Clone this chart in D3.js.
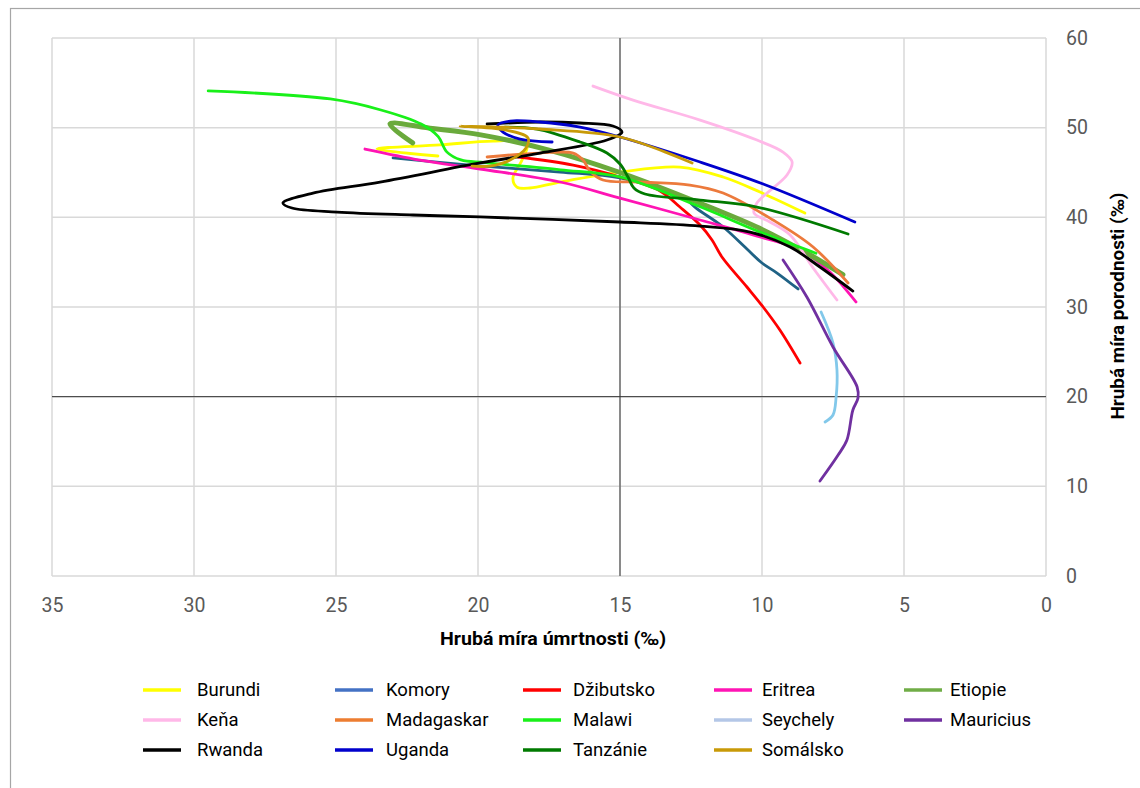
<!DOCTYPE html>
<html>
<head>
<meta charset="utf-8">
<script src="https://cdn.jsdelivr.net/npm/d3@7"></script>
<style>
  html, body { margin: 0; padding: 0; background: #ffffff; }
  svg { display: block; }
</style>
</head>
<body>
<svg id="chart" width="1140" height="788"></svg>
<script>
// ---- data: [death rate ‰, birth rate ‰] ----
const countries = ["Burundi","Komory","Džibutsko","Eritrea","Etiopie","Keňa","Madagaskar","Malawi","Seychely","Mauricius","Rwanda","Uganda","Tanzánie","Somálsko"];
const lineColors = ["#ffff00","#1f6285","#ff0000","#ff14b4","#6aaa3c","#ffb8e8","#ec7a3c","#19f019","#82c8ea","#7030a0","#000000","#0000cc","#007a00","#c89a08"];
const legendColors = ["#ffff00","#4472c4","#ff0000","#ff14b4","#70ad47","#ffb8e8","#ed7d31","#19f019","#b4c7e7","#7030a0","#000000","#0000cc","#007a00","#c89a08"];

const burundi = [[21.41,46.84],[23.56,47.62],[21.34,48.07],[19.47,48.51],[18.27,48.29],[18.45,46.39],[18.77,44.39],[18.63,43.38],[18.17,43.27],[17.11,43.94],[15.0,45.05],[12.89,45.61],[11.37,44.50],[10.07,42.82],[8.49,40.48]];
const komory = [[22.99,46.62],[20.28,45.83],[17.11,45.05],[15.0,44.39],[12.78,42.27],[12.32,41.03],[11.41,39.03],[10.53,36.47],[10.0,34.91],[9.47,33.79],[8.73,32.01]];
const dzibutsko = [[18.59,46.73],[16.65,45.83],[15.0,44.50],[13.59,42.94],[12.89,41.15],[12.18,39.14],[11.76,37.47],[11.41,35.58],[10.53,32.23],[9.96,30.00],[9.37,27.43],[8.66,23.75]];
const eritrea = [[23.98,47.62],[22.04,46.39],[19.93,45.39],[17.11,43.94],[15.0,42.15],[12.18,39.70],[10.07,37.81],[8.66,36.36],[7.61,33.90],[6.69,30.56]];
const etiopie = [[22.3,48.3],[23.1,50.4],[21.6,49.9],[19.9,49.2],[17.5,47.5],[15.0,45.0],[12.2,41.6],[10.1,38.8],[8.3,35.8],[7.15,33.6]];
const kena = [[15.95,54.64],[14.54,53.08],[12.18,50.85],[10.18,48.62],[9.26,47.28],[8.94,46.17],[9.12,44.72],[10.18,41.60],[10.28,40.48],[9.72,39.48],[9.01,38.03],[8.20,34.35],[7.36,30.78]];
const madagaskar = [[19.68,46.73],[17.82,47.17],[16.65,47.17],[16.30,46.39],[16.06,45.17],[15.60,44.16],[14.30,43.94],[12.54,43.60],[11.37,42.71],[9.61,39.70],[8.20,36.69],[6.97,32.68]];
const malawi = [[29.5,54.1],[25.2,53.2],[23.45,52.0],[22.0,50.4],[21.4,49.0],[21.1,47.3],[20.6,46.4],[19.75,46.1],[17.1,45.3],[15.0,44.5],[12.2,41.2],[10.1,38.4],[8.1,36.0]];
const seychely = [[7.92,29.44],[7.50,25.98],[7.36,22.97],[7.39,19.96],[7.50,17.95],[7.78,17.17]];
const mauricius = [[9.26,35.24],[8.42,31.11],[7.50,25.54],[6.65,21.08],[6.62,19.85],[6.80,18.51],[7.01,15.17],[7.32,13.49],[7.96,10.59]];
const rwanda = [[19.68,50.41],[17.82,50.63],[16.41,50.52],[15.25,50.18],[14.93,49.51],[15.46,48.62],[17.82,47.17],[19.93,46.06],[23.45,43.94],[25.81,42.71],[26.87,41.60],[26.55,41.04],[24.96,40.59],[22.29,40.26],[19.93,40.04],[15.0,39.48],[12.18,39.03],[10.42,38.36],[9.01,36.69],[7.96,34.46],[6.80,31.78]];
const uganda = [[17.39,48.40],[18.52,48.73],[19.12,49.51],[19.30,50.30],[18.87,50.74],[17.82,50.63],[16.41,50.07],[15.0,48.96],[12.18,46.17],[9.96,43.72],[6.73,39.48]];
const tanzanie = [[19.05,50.07],[17.92,49.85],[16.41,48.40],[15.46,47.17],[15.0,45.95],[14.72,44.50],[14.51,43.27],[14.12,42.60],[12.18,41.93],[10.18,41.15],[6.97,38.14]];
const somalsko = [[20.21,45.72],[19.58,45.72],[18.87,46.39],[18.31,47.73],[18.24,48.85],[19.05,49.74],[20.63,50.18],[19.23,50.07],[17.82,49.85],[15.0,48.96],[12.46,46.06]];

const seriesData = [burundi, komory, dzibutsko, eritrea, etiopie, kena, madagaskar, malawi, seychely, mauricius, rwanda, uganda, tanzanie, somalsko];
const xTicks = [35,30,25,20,15,10,5,0];
const yTicks = [0,10,20,30,40,50,60];
const xTitle = "Hrubá míra úmrtnosti (‰)";
const yTitle = "Hrubá míra porodnosti (‰)";

// ---- drawing ----
const svg = d3.select("#chart");
const font = "Roboto, 'Liberation Sans', Arial, sans-serif";

svg.append("rect").attr("x",10.5).attr("y",8.5).attr("width",1300).attr("height",1000)
  .attr("fill","#fff").attr("stroke","#a6a6a6").attr("stroke-width",1.2);

const x = d3.scaleLinear().domain([35,0]).range([52,1046]);
const y = d3.scaleLinear().domain([0,60]).range([576,38]);

const grid = svg.append("g");
grid.selectAll("line.v").data(xTicks).join("line")
  .attr("x1",d=>x(d)).attr("x2",d=>x(d)).attr("y1",y(60)).attr("y2",y(0))
  .attr("stroke","#d9d9d9").attr("stroke-width",1.5);
grid.selectAll("line.h").data(yTicks).join("line")
  .attr("y1",d=>y(d)).attr("y2",d=>y(d)).attr("x1",x(35)).attr("x2",x(0))
  .attr("stroke","#d9d9d9").attr("stroke-width",1.5);

// reference cross lines
svg.append("line").attr("x1",x(15)).attr("x2",x(15)).attr("y1",y(60)).attr("y2",y(0))
  .attr("stroke","#333").attr("stroke-width",1);
svg.append("line").attr("x1",x(35)).attr("x2",x(0)).attr("y1",y(20)).attr("y2",y(20))
  .attr("stroke","#333").attr("stroke-width",1);

// axes
const xAxis = svg.append("g").attr("transform",`translate(0,${y(0)})`)
  .call(d3.axisBottom(x).tickValues(xTicks).tickSize(0).tickPadding(22).tickFormat(d3.format("d")));
xAxis.select(".domain").remove();
xAxis.selectAll("text").attr("font-family",font).attr("font-size",19.5).attr("fill","#595959");

const yAxis = svg.append("g").attr("transform",`translate(${x(0)},0)`)
  .call(d3.axisRight(y).tickValues(yTicks).tickSize(0).tickPadding(20).tickFormat(d3.format("d")));
yAxis.select(".domain").remove();
yAxis.selectAll("text").attr("font-family",font).attr("font-size",19.5).attr("fill","#595959");

svg.append("text").attr("x",553).attr("y",645).attr("text-anchor","middle")
  .attr("font-family",font).attr("font-weight","bold").attr("font-size",19).attr("fill","#000")
  .attr("textLength",226).attr("lengthAdjust","spacingAndGlyphs")
  .text(xTitle);
svg.append("text").attr("transform","translate(1124,306) rotate(-90)").attr("text-anchor","middle")
  .attr("font-family",font).attr("font-weight","bold").attr("font-size",19).attr("fill","#000")
  .attr("textLength",227).attr("lengthAdjust","spacingAndGlyphs")
  .text(yTitle);

// lines
const line = d3.line().x(d=>x(d[0])).y(d=>y(d[1])).curve(d3.curveCatmullRom.alpha(0.5));
const lg = svg.append("g");
seriesData.forEach((s,i)=>{
  lg.append("path").datum(s).attr("d",line).attr("fill","none")
    .attr("stroke",lineColors[i]).attr("stroke-width", countries[i]==="Etiopie" ? 5 : 2.8)
    .attr("stroke-linecap","round").attr("stroke-linejoin","round");
});

// legend
const colSwatch = [143,335,523,714,904];
const colText = [197,386,573,762,950];
const rowY = [690,720,750];
const leg = svg.append("g");
countries.forEach((c,i)=>{
  const col = i % 5, row = Math.floor(i/5);
  leg.append("line").attr("x1",colSwatch[col]).attr("x2",colSwatch[col]+38)
    .attr("y1",rowY[row]).attr("y2",rowY[row])
    .attr("stroke",legendColors[i]).attr("stroke-width",3.5);
  leg.append("text").attr("x",colText[col]).attr("y",rowY[row]).attr("dy","0.35em")
    .attr("font-family",font).attr("font-size",18.5).attr("fill","#000").text(c);
});
</script>
</body>
</html>
